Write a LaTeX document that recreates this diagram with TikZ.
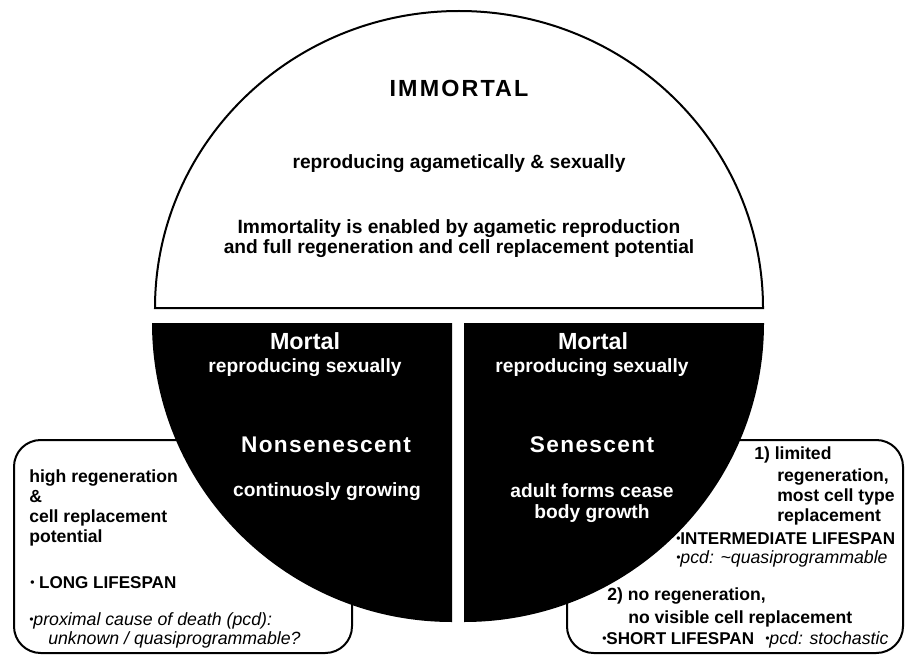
\documentclass[tikz,border=0pt]{standalone}
\usepackage{fontspec}
\setmainfont{Liberation Sans}
\newcommand{\bul}{\raisebox{1.5pt}{\fontsize{9}{9}\selectfont\textbullet}}
\begin{document}
\begin{tikzpicture}[x=0.75pt,y=-0.75pt,
  outl/.style={draw=black,line width=1.5pt},
  tx/.style={inner sep=0,text height=1.5ex,text depth=.3ex},
  txt/.style={tx,font=\bfseries\fontsize{14.4}{15}\selectfont},
  wtxt/.style={tx,text=white,font=\bfseries\fontsize{14.4}{15}\selectfont},
  titl/.style={tx,font=\bfseries\fontsize{17.5}{20}\selectfont\addfontfeatures{LetterSpace=9}},
  wtitl/.style={tx,text=white,font=\bfseries\fontsize{17}{20}\selectfont\addfontfeatures{LetterSpace=6}},
  mort/.style={tx,text=white,font=\bfseries\fontsize{17.5}{20}\selectfont},
  btxt/.style={tx,anchor=west,font=\bfseries\fontsize{13.2}{15}\selectfont},
  ctxt/.style={tx,anchor=west,font=\bfseries\fontsize{12.8}{15}\selectfont},
  itxt/.style={tx,anchor=west,font=\itshape\fontsize{13.3}{15}\selectfont}]
\useasboundingbox (0,0) rectangle (906,656);
% side boxes
\draw[outl,rounded corners=20] (14,440) rectangle (352,653);
\draw[outl,rounded corners=20] (567,440) rectangle (903,653);
% top semicircle
\draw[outl,fill=white] (155,308) arc[start angle=180,end angle=360,x radius=304,y radius=297] -- cycle;
% black quadrants
\fill[black] (152,323) -- (452,323) -- (452,622) arc[start angle=90,end angle=180,x radius=300,y radius=299] -- cycle;
\fill[black] (464,323) -- (764,323) arc[start angle=0,end angle=90,x radius=300,y radius=299] -- cycle;
% semicircle texts
\node[titl] (imm) at (459,92) {IMMORTAL};
\node[txt] (rep) at (459,164) {reproducing agametically \& sexually};
\node[txt] (ena1) at (459,229) {Immortality is enabled by agametic reproduction};
\node[txt] (ena2) at (459,249) {and full regeneration and cell replacement potential};
% left quadrant
\node[mort] (m1) at (305,345) {Mortal};
\node[wtxt] (r1) at (305,368) {reproducing sexually};
\node[wtitl] (ns) at (326,448) {Nonsenescent};
\node[wtxt] (cg) at (327,492) {continuosly growing};
% right quadrant
\node[mort] (m2) at (593,345) {Mortal};
\node[wtxt] (r2) at (592,368) {reproducing sexually};
\node[wtitl] (se) at (592,448) {Senescent};
\node[wtxt] (af1) at (592,493) {adult forms cease};
\node[wtxt] (af2) at (592,514) {body growth};
% left box
\node[btxt] (l1) at (29,478) {high regeneration};
\node[btxt] (l2) at (29,498) {\&};
\node[btxt] (l3) at (29,518) {cell replacement};
\node[btxt] (l4) at (29,538) {potential};
\node[ctxt] (l5) at (30,584) {\bul\ LONG LIFESPAN};
\node[itxt] (l6) at (29,621) {\bul proximal cause of death (pcd):};
\node[itxt] (l7) at (48,640) {unknown / quasiprogrammable?};
% right box
\node[btxt] (q1) at (754,455) {1) limited};
\node[btxt] (q2) at (777,477) {regeneration,};
\node[btxt] (q3) at (777,497) {most cell type};
\node[btxt] (q4) at (777,517) {replacement};
\node[ctxt] (q5) at (676,540) {\bul INTERMEDIATE LIFESPAN};
\node[itxt] (q6) at (676,559) {\bul pcd: \textasciitilde quasiprogrammable};
\node[btxt] (q7) at (607,596) {2) no regeneration,};
\node[btxt] (q8) at (628,619) {no visible cell replacement};
\node[ctxt] (q9) at (602,640) {\bul SHORT LIFESPAN};
\node[itxt] (q10) at (765,640) {\bul pcd: stochastic};
\end{tikzpicture}
\end{document}
